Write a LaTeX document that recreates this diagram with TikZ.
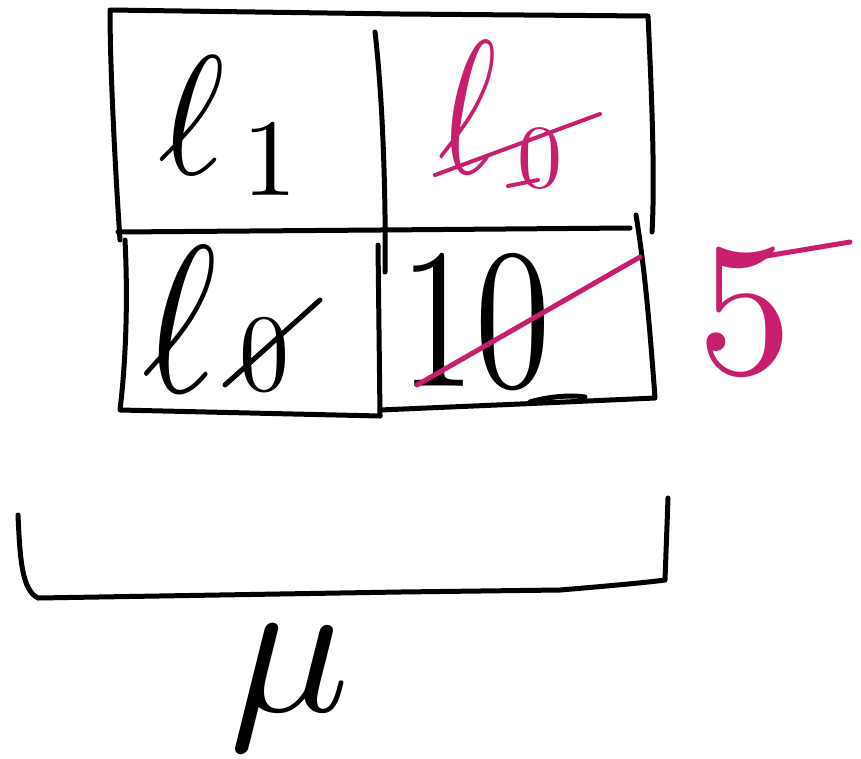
\documentclass[tikz,border=0pt]{standalone}
\usepackage{graphicx}
\definecolor{pinkink}{RGB}{200,30,110}
\begin{document}
\begin{tikzpicture}[x=1pt,y=-1pt,
  ink/.style={line width=5pt,line cap=round,line join=round,draw=black},
  pink/.style={line width=5pt,line cap=round,draw=pinkink},
  glyph/.style={inner sep=0pt}]
\useasboundingbox (0,0) rectangle (861,758);
% grid
\draw[ink] (120,240) .. controls (114,150) and (110,60) .. (110,10) -- (400,14) -- (648,16) .. controls (652,100) and (655,180) .. (652,232);
\draw[ink] (118,232) -- (380,230) -- (630,228);
\draw[ink] (375,32) .. controls (383,100) and (386,200) .. (385,272);
\draw[ink] (125,240) .. controls (128,300) and (126,360) .. (120,410) -- (380,416);
\draw[ink] (378,245) -- (380,416);
\draw[ink] (380,410) -- (520,404) -- (655,398) .. controls (650,330) and (645,270) .. (636,215);
\draw[ink] (530,402) .. controls (550,396) and (572,395) .. (585,397);
% cell texts
\node[glyph] (l1) at (192,115) {\scalebox{16}[17]{$\ell$}};
\node[glyph] (one) at (270,160) {\scalebox{11}{$1$}};
\node[glyph,text=pinkink] (l0a) at (468,108) {\scalebox{14}[19]{$\ell$}};
\node[glyph,text=pinkink] (z0a) at (540,158) {\scalebox{9}{$0$}};
\draw[pink,line width=4pt] (435,175) -- (600,114);
\draw[pink,line width=4pt] (508,186) -- (538,180);
\node[glyph] (l0b) at (180,320) {\scalebox{18}[21]{$\ell$}};
\node[glyph] (z0b) at (264,355) {\scalebox{10}[11]{$0$}};
\draw[ink] (225,385) -- (320,300);
\node[glyph] (ten) at (475,322) {\scalebox{15}[20]{$10$}};
\draw[pink] (417,385) -- (640,257);
% five
\node[glyph,text=pinkink] (five) at (745,312) {\scalebox{19}{$5$}};
\draw[pink] (760,257) -- (850,242);
% bracket
\draw[ink] (18,515) .. controls (20,560) and (22,590) .. (38,598) -- (400,592) -- (560,590) .. controls (620,585) and (650,582) .. (665,580) -- (668,498);
\node[glyph] (mu) at (290,688) {\scalebox{20}{$\mu$}};
\end{tikzpicture}
\end{document}
